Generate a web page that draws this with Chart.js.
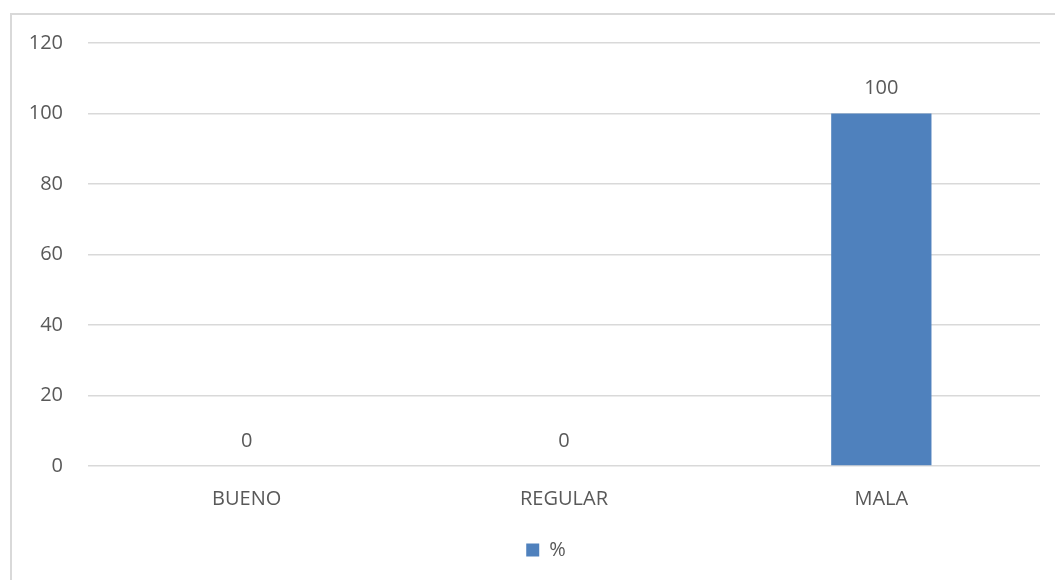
<!DOCTYPE html>
<html>
<head>
<meta charset="utf-8">
<script src="https://cdn.jsdelivr.net/npm/chart.js@4/dist/chart.umd.min.js"></script>
<style>
  html, body { margin: 0; padding: 0; background: #fff; }
  #wrap { position: relative; width: 1055px; height: 580px; overflow: hidden; }
  #frame {
    position: absolute; left: 10px; top: 13px; width: 1100px; height: 600px;
    border-top: 2px solid #d9d9d9; border-left: 2px solid #d9d9d9;
  }
  #chart { position: absolute; left: 0; top: 0; }
</style>
</head>
<body>
<div id="wrap">
  <div id="frame"></div>
  <canvas id="chart" width="1055" height="580"></canvas>
</div>
<script>
const categories = ['BUENO', 'REGULAR', 'MALA'];
const percentValues = [0, 0, 100];
const seriesLabel = '%';
const yTicks = [0, 20, 40, 60, 80, 100, 120];

const textColor = '#595959';
const fontFamily = '"Open Sans", "Liberation Sans", sans-serif';

// value labels sitting above each bar top
const barValueLabels = {
  id: 'barValueLabels',
  afterDatasetsDraw(chart) {
    const { ctx } = chart;
    ctx.save();
    ctx.fillStyle = textColor;
    ctx.font = `20px ${fontFamily}`;
    ctx.textAlign = 'center';
    ctx.textBaseline = 'middle';
    chart.getDatasetMeta(0).data.forEach((bar, i) => {
      ctx.fillText(String(percentValues[i]), bar.x, bar.y - 25);
    });
    ctx.restore();
  },
};

// legend sits centred under the plot area rather than the whole canvas
const legendOffset = {
  id: 'legendOffset',
  afterLayout(chart) {
    chart.legend.left += 26;
    chart.legend.right += 26;
  },
};

new Chart(document.getElementById('chart'), {
  type: 'bar',
  data: {
    labels: categories,
    datasets: [{
      label: seriesLabel,
      data: percentValues,
      backgroundColor: '#4f81bd',
      borderWidth: 0,
      barPercentage: 1,
      categoryPercentage: 0.316,
    }],
  },
  options: {
    responsive: false,
    animation: false,
    layout: { padding: { top: 43, right: 15, bottom: 10, left: 0 } },
    plugins: {
      legend: {
        position: 'bottom',
        labels: {
          boxWidth: 13,
          boxHeight: 13,
          padding: 10,
          color: textColor,
          font: { family: fontFamily, size: 20 },
        },
      },
      tooltip: { enabled: false },
    },
    scales: {
      x: {
        grid: { display: false },
        border: { display: false },
        ticks: { color: textColor, font: { family: fontFamily, size: 20 }, padding: 13 },
        afterFit(scale) { scale.height = 64; },
      },
      y: {
        min: yTicks[0],
        max: yTicks[yTicks.length - 1],
        grid: { color: '#d9d9d9', lineWidth: 1.5, drawTicks: false },
        border: { display: false },
        afterBuildTicks(scale) { scale.ticks = yTicks.map((v) => ({ value: v })); },
        ticks: { color: textColor, font: { family: fontFamily, size: 20 }, padding: 25 },
        afterFit(scale) { scale.width = 88; },
      },
    },
  },
  plugins: [barValueLabels, legendOffset],
});
</script>
</body>
</html>
